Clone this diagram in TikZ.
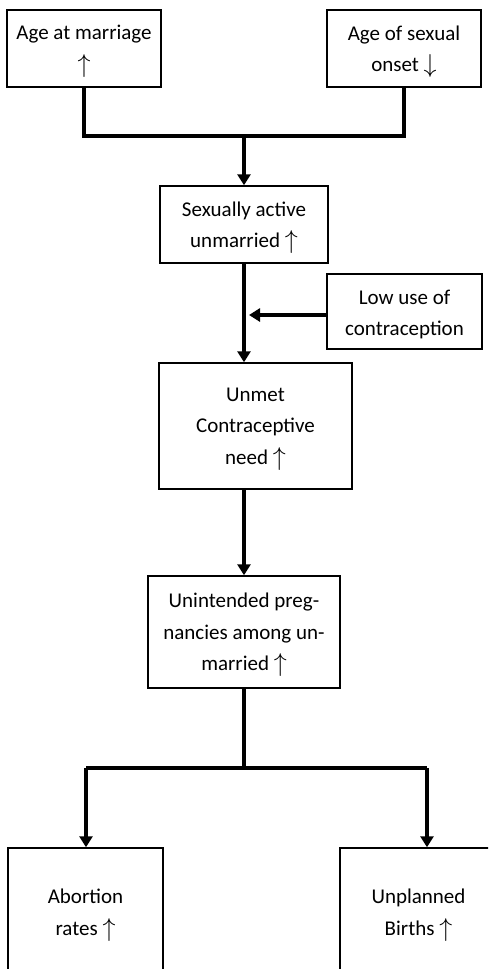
\documentclass[tikz,border=0pt]{standalone}
\usepackage{fontspec}
\setmainfont{Carlito}
\usetikzlibrary{arrows.meta}
\newcommand\uparr{\raisebox{-1pt}{\scalebox{1.25}{$\uparrow$}}}
\newcommand\downarr{\raisebox{-1pt}{\scalebox{1.25}{$\downarrow$}}}
\begin{document}
\begin{tikzpicture}[x=1pt,y=-1pt,
  box/.style={draw, line width=1.5pt, inner sep=0pt},
  boxtext/.style={align=center, inner sep=0pt, yshift=-3pt,
    font=\fontsize{21}{31.5}\selectfont},
  link/.style={line width=4pt},
  arrow/.style={line width=4pt, -{Triangle[width=13pt,length=11pt]}}]
  \clip (0,0) rectangle (488,969);
  \fill[white] (0,0) rectangle (488,969);

  % causes
  \node[box, minimum width=154pt, minimum height=77pt,
    label={[boxtext]center:{Age at marriage\\\uparr}}] (A) at (84,48.5) {};
  \node[box, minimum width=154pt, minimum height=77pt,
    label={[boxtext]center:{Age of sexual\\onset~\downarr}}] (B) at (404,48.5) {};
  \node[box, minimum width=168pt, minimum height=77pt,
    label={[boxtext]center:{Sexually active\\unmarried~\uparr}}] (C) at (244,224.5) {};
  \node[box, minimum width=155pt, minimum height=75pt,
    label={[boxtext]center:{Low use of\\contraception}}] (D) at (404.5,311.5) {};
  \node[box, minimum width=193pt, minimum height=126pt,
    label={[boxtext]center:{Unmet\\Contraceptive\\need~\uparr}}] (E) at (255.5,426) {};
  \node[box, minimum width=192pt, minimum height=112pt,
    label={[boxtext]center:{Unintended preg-\\nancies among un-\\married~\uparr}}] (F) at (244,632) {};
  % outcomes
  \node[box, minimum width=155pt, minimum height=128pt,
    label={[boxtext]center:{Abortion\\rates~\uparr}}] (G) at (85.5,912) {};
  \node[box, minimum width=157pt, minimum height=128pt,
    label={[boxtext]center:{Unplanned\\Births~\uparr}}] (H) at (418.5,912) {};

  % merging the two causes
  \coordinate (top) at (244,136);
  \draw[link] (A.south) |- (top);
  \draw[link] (B.south) |- (top);
  \draw[arrow] (top) -- (C.north);

  % main chain
  \draw[arrow] (C.south) -- (C.south |- E.north);
  \draw[arrow] (D.west |- 0,315) -- (249,315);
  \draw[arrow] (F.north |- E.south) -- (F.north);

  % split into outcomes
  \coordinate (split) at (244,768);
  \coordinate (left) at (86,768);
  \coordinate (right) at (427,768);
  \draw[link] (F.south) -- (split);
  \draw[link] (left) -- (right);
  \draw[arrow] (left) -- (left |- G.north);
  \draw[arrow] (right) -- (right |- H.north);
\end{tikzpicture}
\end{document}
